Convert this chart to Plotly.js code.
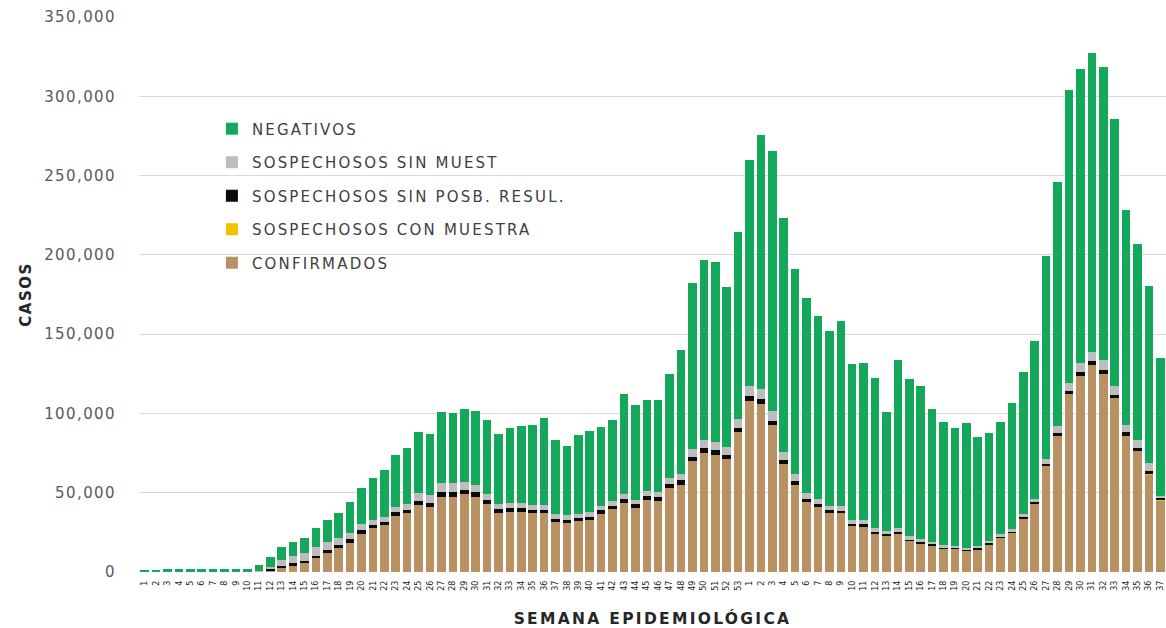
<!DOCTYPE html>
<html>
<head>
<meta charset="utf-8">
<script src="https://cdn.plot.ly/plotly-3.0.1.min.js"></script>
<style>
  html, body { margin: 0; padding: 0; background: #fff; }
  #chart { width: 1166px; height: 628px; }
  .ytick text { letter-spacing: 1.4px; }
  .legendtext { letter-spacing: 2.2px; }
  .xtitle { letter-spacing: 2.3px; }
  .ytitle { letter-spacing: 1.5px; }
</style>
</head>
<body>
<div id="chart"></div>
<script>
// Semana epidemiológica labels (2020: 1-53, 2021: 1-37)
const semanas = [
  1,2,3,4,5,6,7,8,9,10,11,12,13,14,15,16,17,18,19,20,21,22,23,24,25,26,27,28,29,30,
  31,32,33,34,35,36,37,38,39,40,41,42,43,44,45,46,47,48,49,50,51,52,53,
  1,2,3,4,5,6,7,8,9,10,11,12,13,14,15,16,17,18,19,20,21,22,23,24,25,26,27,28,29,30,
  31,32,33,34,35,36,37
];
const anios = [
  2020,2020,2020,2020,2020,2020,2020,2020,2020,2020,2020,2020,2020,2020,2020,2020,2020,2020,2020,2020,2020,2020,2020,2020,2020,2020,2020,2020,2020,2020,
  2020,2020,2020,2020,2020,2020,2020,2020,2020,2020,2020,2020,2020,2020,2020,2020,2020,2020,2020,2020,2020,2020,2020,
  2021,2021,2021,2021,2021,2021,2021,2021,2021,2021,2021,2021,2021,2021,2021,2021,2021,2021,2021,2021,2021,2021,2021,2021,2021,2021,2021,2021,2021,2021,
  2021,2021,2021,2021,2021,2021,2021
];

// Values (cases)
const confirmados = [
  0,0,0,0,0,0,0,0,10,50,300,1200,2900,4200,5900,8800,12000,15000,18500,24000,27500,29500,35500,37000,42000,41000,47500,47500,49000,47500,
  43000,37500,38000,38000,37000,37000,31500,31000,32000,33000,36800,39500,43500,40500,45500,45000,53000,55000,70000,75000,74000,71000,88000,
  108000,106000,92500,68000,55000,44000,41000,37500,37500,29500,29000,24500,23000,24300,19600,18200,16900,15000,14600,13500,14500,17500,21500,24800,34000,43000,67000,86000,112000,123500,130500,125000,109500,86000,76000,61500,45000
];
const conMuestra = [
  0,0,0,0,0,0,0,0,0,0,0,0,0,0,0,0,0,0,0,0,0,0,0,0,0,0,0,0,0,0,
  0,0,0,0,0,0,0,0,0,0,0,0,0,0,0,0,0,0,0,0,0,0,0,
  0,0,0,0,0,0,0,0,0,0,0,0,0,0,0,0,0,0,0,0,0,0,0,0,0,0,0,0,0,0,0,0,0,0,0,300,1000,4500
];
const sinPosibResultado = [
  0,0,0,0,0,0,0,0,0,0,100,400,1000,1200,1300,1500,1800,1800,2000,2200,2000,2000,2300,2300,2500,2500,3000,3000,3000,3000,
  2500,2200,2200,2200,2000,2000,1800,1800,1800,2000,2000,2200,2300,2200,2500,2500,2600,2800,2800,3000,3000,2800,3000,
  3000,3000,3000,2500,2200,1800,1600,1300,1200,1000,1000,800,700,800,600,600,500,400,400,400,400,500,600,600,800,1000,1400,1800,2200,2500,2500,2500,2300,2000,2000,2000,500
];
const sinMuestra = [
  0,0,0,0,0,0,0,0,0,0,300,1500,3500,4500,5000,5500,5000,4500,4000,4000,3500,3500,3500,3800,5500,5000,5500,5500,5000,4500,
  4000,3500,3500,3300,3200,3200,3000,3000,3000,3000,3000,3000,3200,3000,3200,3200,3500,4000,4500,5000,5000,5000,5500,
  6000,6500,6000,5000,4500,4000,3500,3000,3000,2500,2500,2200,2000,2500,2200,2000,1800,1600,1500,1500,1500,1500,1600,1800,2000,2300,3000,4000,5000,5500,6000,6000,5500,5000,5000,5000,1500
];
const negativos = [
  900,1300,1900,2000,2000,2000,2000,1800,1800,2100,3900,6100,8600,9100,9400,12200,14200,16200,19500,22800,26500,29500,32700,34900,38000,38500,45000,44500,46000,46500,
  46100,43600,47100,48300,50300,54900,47200,43700,49400,50700,49600,51300,63400,59600,57000,57500,65900,77900,104700,113700,113200,101100,118200,
  142600,160000,164000,148000,129300,122800,115600,110000,116400,98300,99200,95000,75200,105800,99200,96600,83800,77600,74500,78600,68700,68200,70900,79500,89200,99200,128000,154400,184800,186000,188000,185000,168100,135200,124100,111700,87100
];

const categorias = semanas.map((s, i) => anios[i] + '-' + s);

const colores = {
  negativos: '#13a85a',
  sinMuestra: '#bdbdbd',
  sinPosib: '#0b0b0b',
  conMuestra: '#f2c200',
  confirmados: '#b99163'
};

function barTrace(name, values, color, group, rank) {
  return {
    type: 'bar',
    name: name,
    x: categorias,
    y: values,
    marker: { color: color, line: { width: 0 } },
    legendgroup: group,
    legendrank: rank,
    hoverinfo: 'x+y+name'
  };
}

const data = [
  barTrace('CONFIRMADOS', confirmados, colores.confirmados, 'g5', 5),
  barTrace('SOSPECHOSOS CON MUESTRA', conMuestra, colores.conMuestra, 'g4', 4),
  barTrace('SOSPECHOSOS SIN POSB. RESUL.', sinPosibResultado, colores.sinPosib, 'g3', 3),
  barTrace('SOSPECHOSOS SIN MUEST', sinMuestra, colores.sinMuestra, 'g2', 2),
  barTrace('NEGATIVOS', negativos, colores.negativos, 'g1', 1)
];

const layout = {
  width: 1166,
  height: 628,
  margin: { l: 139, r: 0, t: 17, b: 56 },
  paper_bgcolor: '#ffffff',
  plot_bgcolor: '#ffffff',
  barmode: 'stack',
  bargap: 0.25,
  font: { family: 'DejaVu Sans, sans-serif', color: '#595959' },
  showlegend: true,
  legend: {
    x: 0.071, y: 0.828, xanchor: 'left', yanchor: 'top',
    traceorder: 'grouped',
    tracegroupgap: 11,
    font: { family: 'DejaVu Sans, sans-serif', size: 15, color: '#404040' },
    bgcolor: 'rgba(0,0,0,0)',
    itemwidth: 30
  },
  xaxis: {
    type: 'category',
    tickmode: 'array',
    tickvals: categorias,
    ticktext: semanas.map(String),
    tickangle: -90,
    tickfont: { family: 'DejaVu Sans, sans-serif', size: 8, color: '#222' },
    ticklabelstandoff: 6,
    showgrid: false,
    zeroline: false,
    showline: false,
    ticks: '',
    range: [-0.5, 89.5],
    title: {
      text: 'SEMANA EPIDEMIOLÓGICA',
      font: { family: 'DejaVu Sans, sans-serif', size: 15.5, color: '#262626', weight: 'bold' },
      standoff: 24
    }
  },
  yaxis: {
    range: [0, 350000],
    tickvals: [0, 50000, 100000, 150000, 200000, 250000, 300000, 350000],
    ticktext: ['0', '50,000', '100,000', '150,000', '200,000', '250,000', '300,000', '350,000'],
    tickfont: { family: 'DejaVu Sans, sans-serif', size: 15, color: '#595959' },
    ticklabelstandoff: 22,
    showgrid: true,
    gridcolor: '#dadada',
    gridwidth: 1,
    zeroline: false,
    showline: false,
    ticks: '',
    title: {
      text: 'CASOS',
      font: { family: 'DejaVu Sans, sans-serif', size: 15, color: '#262626', weight: 'bold' },
      standoff: 8
    }
  }
};

Plotly.newPlot('chart', data, layout, { displayModeBar: false });
</script>
</body>
</html>
